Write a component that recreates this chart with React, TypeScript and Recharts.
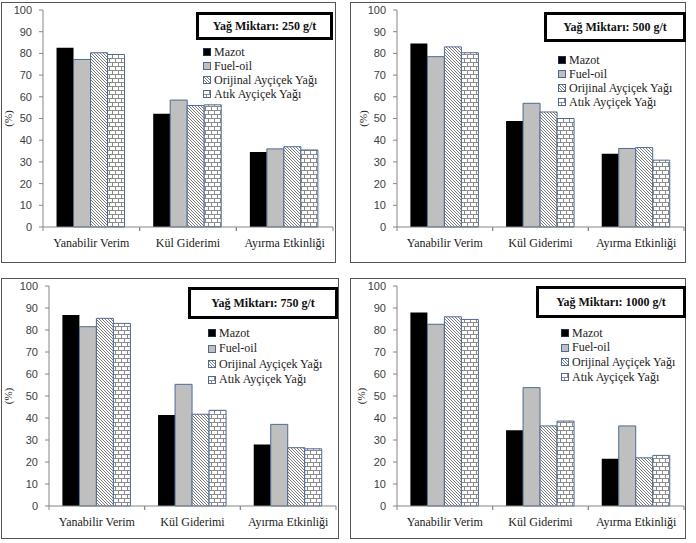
import React from 'react';
import { BarChart, Bar, XAxis, YAxis, Label } from 'recharts';

const categories = ['Yanabilir Verim', 'Kül Giderimi', 'Ayırma Etkinliği'];
const seriesNames = ['Mazot', 'Fuel-oil', 'Orijinal Ayçiçek Yağı', 'Atık Ayçiçek Yağı'];
const yTicks = [0, 10, 20, 30, 40, 50, 60, 70, 80, 90, 100];
const panelTitles = ['Yağ Miktarı: 250 g/t', 'Yağ Miktarı: 500 g/t', 'Yağ Miktarı: 750 g/t', 'Yağ Miktarı: 1000 g/t'];

const mazot250 = [82.6, 52.2, 34.6];
const fuel250 = [77.2, 58.5, 36.0];
const orijinal250 = [80.3, 56.0, 37.0];
const atik250 = [79.5, 56.3, 35.5];

const mazot500 = [84.6, 48.9, 33.8];
const fuel500 = [78.5, 57.0, 36.2];
const orijinal500 = [83.0, 53.0, 36.6];
const atik500 = [80.3, 50.0, 30.8];

const mazot750 = [86.8, 41.4, 28.0];
const fuel750 = [81.5, 55.3, 37.1];
const orijinal750 = [85.3, 41.7, 26.5];
const atik750 = [83.0, 43.5, 26.0];

const mazot1000 = [87.9, 34.4, 21.5];
const fuel1000 = [82.6, 53.8, 36.4];
const orijinal1000 = [86.0, 36.4, 21.9];
const atik1000 = [84.8, 38.6, 23.0];

const seriesKeys = ['mazot', 'fuel', 'orijinal', 'atik'];

function buildRows(m: number[], f: number[], o: number[], a: number[]) {
  return categories.map((c, i) => ({ name: c, mazot: m[i], fuel: f[i], orijinal: o[i], atik: a[i] }));
}

const panelData = [
  buildRows(mazot250, fuel250, orijinal250, atik250),
  buildRows(mazot500, fuel500, orijinal500, atik500),
  buildRows(mazot750, fuel750, orijinal750, atik750),
  buildRows(mazot1000, fuel1000, orijinal1000, atik1000),
];

const seriesStyle = [
  { fill: '#000000', stroke: '#000000' },
  { fill: '#bfbfbf', stroke: '#4e6a92' },
  { fill: 'url(#hatchPat)', stroke: '#4e6a92' },
  { fill: 'url(#brickPat)', stroke: '#4e6a92' },
];

const layouts = [
  { left: 1, top: 2, w: 335, h: 261, pl: 42, pt: 8, pb: 225, pr: 332, tx: 195, ty: 10, tw: 137, th: 28, lx: 202, ly: 50, ls: 14, yx: 7 },
  { left: 350, top: 2, w: 336, h: 261, pl: 47, pt: 8, pb: 225, pr: 334, tx: 194, ty: 10, tw: 142, th: 30, lx: 208, ly: 58, ls: 14, yx: 13 },
  { left: 1, top: 278, w: 338, h: 261, pl: 48, pt: 8, pb: 228, pr: 335, tx: 187, ty: 9, tw: 150, th: 32, lx: 207, ly: 55, ls: 15.5, yx: 7 },
  { left: 350, top: 278, w: 336, h: 261, pl: 47, pt: 8, pb: 228, pr: 334, tx: 186, ty: 8, tw: 150, th: 32, lx: 211, ly: 55, ls: 14.7, yx: 11 },
];

const axisColor = '#868686';
const serif = '"Liberation Serif", "DejaVu Serif", serif';
const sans = '"Liberation Sans", Arial, sans-serif';

function makeXTick(half: number) {
  return (props: any) => {
    const { x, y, payload } = props;
    return (
      <g>
        <line x1={x - half} y1={y} x2={x - half} y2={y + 4} stroke={axisColor} />
        <line x1={x + half} y1={y} x2={x + half} y2={y + 4} stroke={axisColor} />
        <text x={x} y={y + 16} dy="0.35em" textAnchor="middle" fontFamily={serif} fontSize={12} fill="#222">
          {payload.value}
        </text>
      </g>
    );
  };
}

function Panel({ idx }: { idx: number }) {
  const L = layouts[idx];
  const half = (L.pr - L.pl) / 3 / 2;
  const cy = (L.pt + L.pb) / 2;
  return (
    <div style={{ position: 'absolute', left: L.left, top: L.top, width: L.w, height: L.h }}>
      <BarChart
        width={L.w}
        height={L.h}
        data={panelData[idx]}
        margin={{ top: L.pt, right: L.w - L.pr, bottom: 0, left: 0 }}
        barCategoryGap="14%"
        barGap={0}
      >
        <XAxis
          dataKey="name"
          height={L.h - L.pb}
          axisLine={{ stroke: axisColor }}
          tickLine={false}
          tickSize={0}
          tickMargin={0}
          interval={0}
          tick={makeXTick(half)}
        />
        <YAxis
          width={L.pl}
          domain={[0, 100]}
          ticks={yTicks}
          interval={0}
          axisLine={{ stroke: axisColor }}
          tickLine={{ stroke: axisColor }}
          tickSize={4}
          tickMargin={7}
          tick={{ fontFamily: sans, fontSize: 11, fill: '#404040' }}
        >
          <Label
            value="(%)"
            content={() => (
              <text
                x={L.yx}
                y={cy}
                transform={`rotate(-90 ${L.yx} ${cy})`}
                textAnchor="middle"
                dominantBaseline="central"
                fontFamily={serif}
                fontSize={11}
                fill="#222"
              >
                (%)
              </text>
            )}
          />
        </YAxis>
        {seriesKeys.map((k, i) => (
          <Bar
            key={k}
            dataKey={k}
            name={seriesNames[i]}
            fill={seriesStyle[i].fill}
            stroke={seriesStyle[i].stroke}
            strokeWidth={i === 0 ? 0 : 1}
            isAnimationActive={false}
          />
        ))}
      </BarChart>
      <div
        style={{
          position: 'absolute',
          left: 0,
          top: 0,
          width: L.w,
          height: L.h,
          border: '1px solid #555',
          boxSizing: 'border-box',
          pointerEvents: 'none',
        }}
      />
      <div
        style={{
          position: 'absolute',
          left: L.tx,
          top: L.ty,
          width: L.tw,
          height: L.th,
          border: '3px solid #000',
          boxSizing: 'border-box',
          background: '#fff',
          display: 'flex',
          alignItems: 'center',
          justifyContent: 'center',
          fontFamily: serif,
          fontWeight: 'bold',
          fontSize: 12,
          color: '#111',
          whiteSpace: 'nowrap',
        }}
      >
        {panelTitles[idx]}
      </div>
      {seriesNames.map((n, i) => (
        <div
          key={n}
          style={{
            position: 'absolute',
            left: L.lx,
            top: L.ly + i * L.ls - 7,
            height: 14,
            display: 'flex',
            alignItems: 'center',
            whiteSpace: 'nowrap',
            fontFamily: serif,
            fontSize: 12,
            color: '#222',
          }}
        >
          <svg width={8} height={8} style={{ display: 'block' }}>
            <rect x={0.5} y={0.5} width={7} height={7} fill={seriesStyle[i].fill} stroke={i === 0 ? '#1f2f4a' : '#4e6a92'} />
          </svg>
          <span style={{ marginLeft: 3 }}>{n}</span>
        </div>
      ))}
    </div>
  );
}

export default function App() {
  return (
    <div style={{ position: 'absolute', left: 0, top: 0, width: 696, height: 543, background: '#fff' }}>
      <svg width={0} height={0} style={{ position: 'absolute' }}>
        <defs>
          <pattern id="hatchPat" patternUnits="userSpaceOnUse" width={3} height={3}>
            <rect x={0} y={0} width={3} height={3} fill="#fff" />
            <path d="M-1,-1 L4,4 M2,-1 L4,1 M-1,2 L1,4" stroke="#444" strokeWidth={0.7} />
          </pattern>
          <pattern id="brickPat" patternUnits="userSpaceOnUse" width={12} height={8}>
            <rect x={0} y={0} width={12} height={8} fill="#fff" />
            <path d="M0,0.5 H12 M0,4.5 H12 M0.5,0.5 V4.5 M6.5,0.5 V4.5 M3.5,4.5 V8 M9.5,4.5 V8" stroke="#8c8c8c" strokeWidth={1} />
          </pattern>
        </defs>
      </svg>
      {[0, 1, 2, 3].map((i) => (
        <Panel key={i} idx={i} />
      ))}
    </div>
  );
}
